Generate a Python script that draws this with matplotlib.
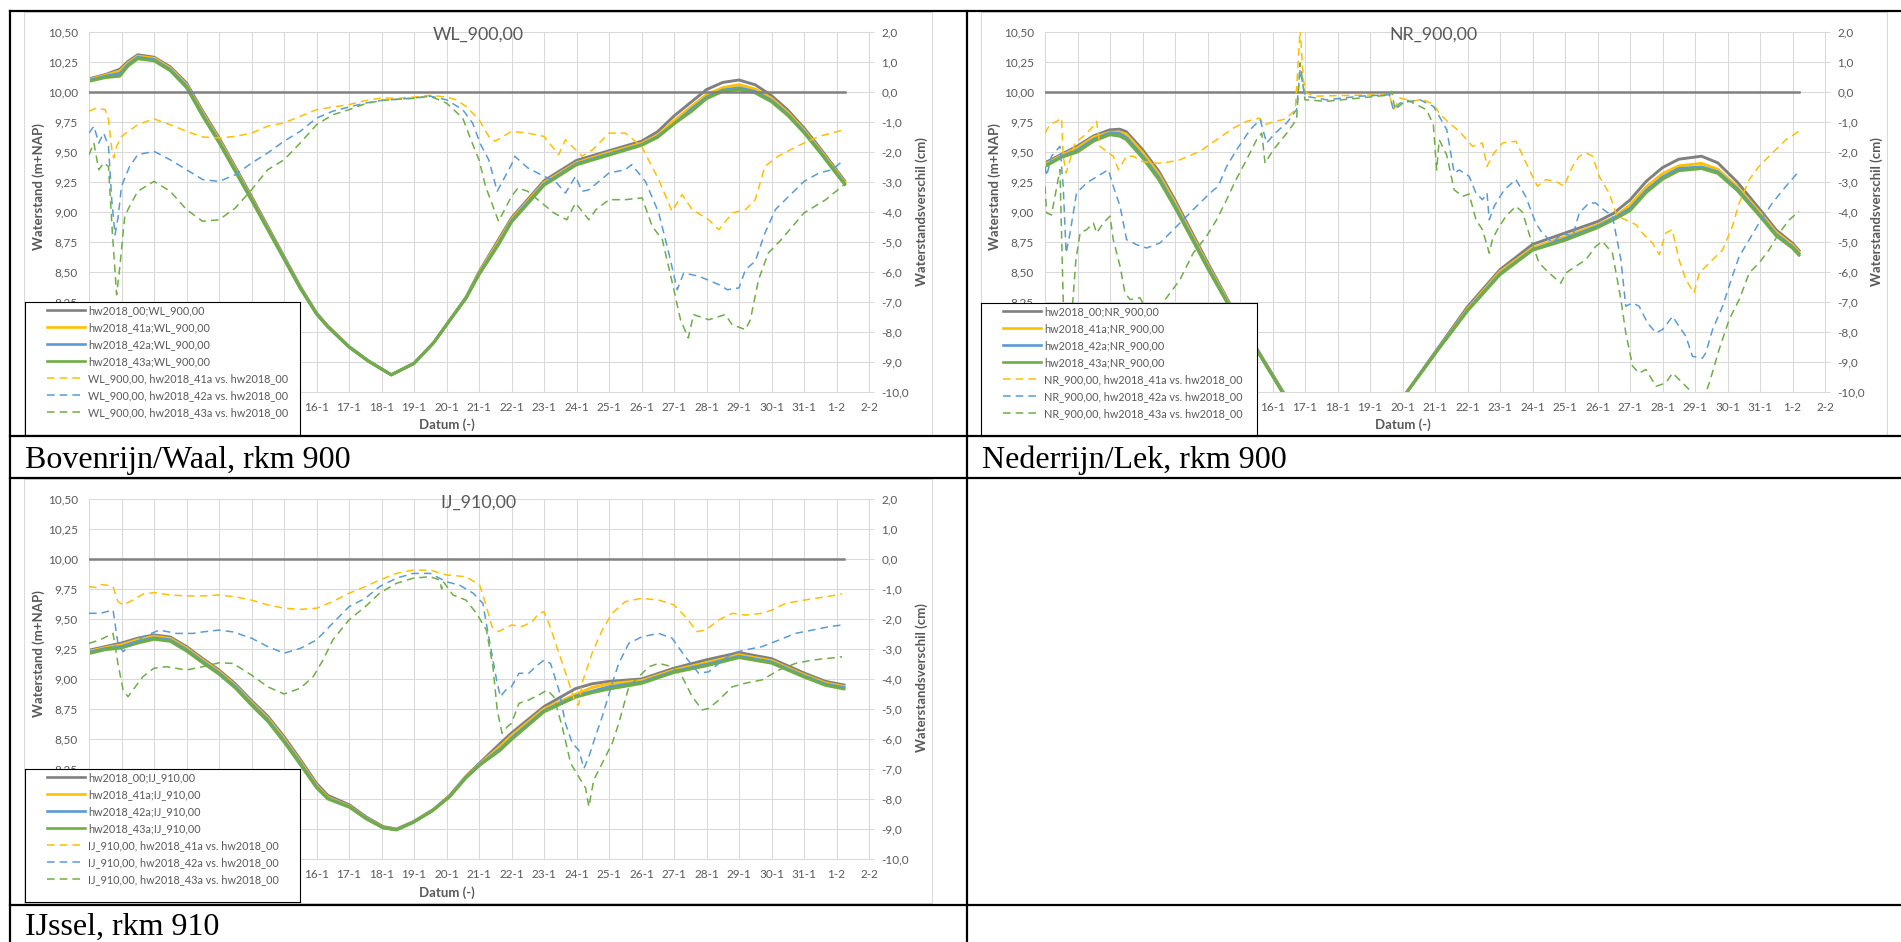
import numpy as np
import matplotlib
matplotlib.use('Agg')
import matplotlib.pyplot as plt
from matplotlib.lines import Line2D
from matplotlib.patches import Rectangle
from matplotlib.transforms import Bbox, TransformedBbox
from matplotlib.ticker import FixedLocator, FuncFormatter, MultipleLocator

plt.rcParams['font.family'] = ['Lato', 'DejaVu Sans']

W, H = 1901, 942

# x axis: days since 9 January
day_labels = ['9-1', '10-1', '11-1', '12-1', '13-1', '14-1', '15-1', '16-1', '17-1',
              '18-1', '19-1', '20-1', '21-1', '22-1', '23-1', '24-1', '25-1', '26-1',
              '27-1', '28-1', '29-1', '30-1', '31-1', '1-2', '2-2']

# ---------------- WL_900,00 (Bovenrijn/Waal) ----------------
wl_t = [0, 0.5, 0.95, 1.2, 1.5, 2, 2.5, 3, 3.5, 4, 5, 6, 6.5, 7, 7.35, 8, 8.6, 9.3, 10,
        10.6, 11.1, 11.6, 12, 12.6, 13, 14, 15, 16, 17, 17.5, 18, 18.5, 19, 19.5, 20,
        20.5, 21, 21.5, 22, 22.5, 23, 23.25]
wl_00 = [10.11, 10.145, 10.19, 10.255, 10.31, 10.29, 10.21, 10.075, 9.84, 9.62, 9.13,
         8.63, 8.38, 8.16, 8.05, 7.88, 7.76, 7.645, 7.74, 7.91, 8.10, 8.29, 8.50, 8.77,
         8.95, 9.26, 9.43, 9.51, 9.59, 9.67, 9.80, 9.91, 10.02, 10.08, 10.10, 10.06,
         9.97, 9.85, 9.70, 9.53, 9.35, 9.26]
wl_41a = [10.104, 10.139, 10.175, 10.242, 10.299, 10.281, 10.199, 10.062, 9.825, 9.605,
          9.116, 8.620, 8.372, 8.154, 8.045, 7.876, 7.757, 7.643, 7.738, 7.909, 8.098,
          8.285, 8.491, 8.754, 8.937, 9.245, 9.411, 9.496, 9.572, 9.641, 9.760, 9.871,
          9.978, 10.036, 10.061, 10.024, 9.947, 9.830, 9.683, 9.515, 9.337, 9.247]
wl_42a = [10.096, 10.131, 10.155, 10.229, 10.289, 10.270, 10.187, 10.049, 9.811, 9.590,
          9.106, 8.614, 8.367, 8.151, 8.043, 7.875, 7.756, 7.643, 7.738, 7.909, 8.097,
          8.283, 8.482, 8.737, 8.926, 9.232, 9.402, 9.483, 9.561, 9.630, 9.734, 9.849,
          9.957, 10.015, 10.035, 10.004, 9.931, 9.815, 9.670, 9.503, 9.325, 9.237]
wl_43a = [10.089, 10.120, 10.132, 10.216, 10.277, 10.260, 10.177, 10.036, 9.797, 9.577,
          9.097, 8.607, 8.363, 8.149, 8.042, 7.874, 7.756, 7.642, 7.738, 7.909, 8.096,
          8.280, 8.477, 8.727, 8.915, 9.222, 9.393, 9.474, 9.555, 9.622, 9.735, 9.830,
          9.944, 10.005, 10.021, 9.992, 9.918, 9.804, 9.660, 9.493, 9.316, 9.229]
wl_d00 = [(0, 0.0), (23.25, 0.0)]
wl_d41a = [(0, -0.64), (0.25, -0.53), (0.5, -0.59), (0.6, -0.92), (0.7, -1.9), (0.76, -2.2),
           (0.85, -1.81), (1.0, -1.48), (1.5, -1.09), (2.0, -0.89), (2.2, -0.98), (2.5, -1.09),
           (3, -1.31), (3.5, -1.50), (4, -1.53), (4.5, -1.48), (5, -1.37), (5.5, -1.14),
           (6, -1.03), (6.5, -0.81), (7, -0.59), (7.5, -0.50), (8, -0.42), (8.5, -0.29),
           (9, -0.20), (9.5, -0.21), (10, -0.17), (10.5, -0.11), (11, -0.17), (11.3, -0.26),
           (11.6, -0.48), (11.9, -0.81), (12.0, -0.92), (12.3, -1.48), (12.5, -1.64),
           (13, -1.31), (13.5, -1.37), (14, -1.48), (14.45, -2.09), (14.66, -1.59),
           (14.97, -1.92), (15.17, -2.14), (15.5, -1.92), (16, -1.37), (16.5, -1.37),
           (17, -1.81), (17.53, -2.92), (17.94, -3.98), (18.25, -3.42), (18.56, -3.92),
           (19.07, -4.26), (19.38, -4.59), (19.8, -4.03), (20.2, -3.92), (20.5, -3.59),
           (20.8, -2.48), (21.2, -2.14), (22, -1.70), (22.46, -1.48), (23.23, -1.26)]
wl_d42a = [(0, -1.37), (0.15, -1.14), (0.3, -1.70), (0.45, -1.37), (0.6, -1.81), (0.7, -3.59),
           (0.8, -4.76), (0.9, -4.14), (1.0, -3.14), (1.25, -2.48), (1.5, -2.09), (2, -1.98),
           (2.5, -2.26), (3, -2.59), (3.5, -2.92), (4, -2.98), (4.5, -2.76), (5, -2.37),
           (5.5, -2.03), (6, -1.64), (6.5, -1.31), (7, -0.87), (7.5, -0.64), (8, -0.50),
           (8.5, -0.37), (9, -0.28), (10, -0.20), (10.5, -0.14), (11, -0.26), (11.5, -0.59),
           (11.8, -1.03), (12.05, -1.75), (12.3, -2.26), (12.56, -3.31), (13, -2.42),
           (13.1, -2.14), (13.5, -2.53), (14, -2.81), (14.35, -2.98), (14.66, -3.37),
           (14.97, -2.81), (15.17, -3.31), (15.38, -3.26), (16, -2.70), (16.5, -2.59),
           (16.7, -2.42), (17.12, -2.98), (17.53, -4.03), (17.84, -5.37), (18.1, -6.59),
           (18.3, -6.03), (18.76, -6.14), (19.38, -6.42), (19.64, -6.59), (20.0, -6.53),
           (20.2, -5.92), (20.5, -5.64), (20.8, -4.70), (21.12, -3.92), (21.53, -3.48),
           (22, -2.98), (22.46, -2.70), (22.87, -2.59), (23.23, -2.26)]
wl_d43a = [(0, -2.09), (0.15, -1.70), (0.3, -2.59), (0.45, -2.37), (0.6, -2.48), (0.72, -4.70),
           (0.85, -6.76), (0.95, -5.81), (1.1, -4.14), (1.25, -3.81), (1.5, -3.31), (2, -2.98),
           (2.5, -3.31), (3, -3.92), (3.5, -4.31), (4, -4.26), (4.5, -3.87), (5, -3.26),
           (5.5, -2.59), (6, -2.26), (6.5, -1.70), (7, -1.09), (7.5, -0.76), (8, -0.59),
           (8.5, -0.39), (9, -0.28), (10, -0.21), (10.5, -0.14), (11, -0.37), (11.5, -0.87),
           (11.75, -1.59), (12.0, -2.26), (12.2, -3.14), (12.6, -4.31), (13, -3.48),
           (13.2, -3.20), (13.5, -3.31), (14, -3.76), (14.3, -4.03), (14.7, -4.26),
           (14.97, -3.70), (15.38, -4.26), (15.6, -3.92), (16, -3.59), (16.5, -3.59),
           (17.02, -3.53), (17.33, -4.48), (17.64, -4.92), (17.95, -6.37), (18.2, -7.59),
           (18.44, -8.2), (18.6, -7.42), (19.07, -7.59), (19.58, -7.42), (19.79, -7.76),
           (20.2, -7.92), (20.35, -7.59), (20.6, -6.26), (20.9, -5.37), (21.3, -4.92),
           (22, -4.03), (22.67, -3.59), (23.23, -3.09)]

# ---------------- NR_900,00 (Nederrijn/Lek) ----------------
nr_t = [0, 0.5, 1, 1.5, 2, 2.3, 2.5, 3, 3.5, 4, 4.5, 5, 5.5, 6, 6.5, 7.33, 8.3, 9.3, 10.2,
        11.13, 12.13, 13, 14, 15, 16, 17, 17.5, 18, 18.5, 19, 19.5, 20.2, 20.7, 21.3, 22,
        22.5, 23, 23.2]
nr_00 = [9.41, 9.48, 9.55, 9.635, 9.685, 9.69, 9.67, 9.52, 9.34, 9.10, 8.84, 8.58, 8.33,
         8.08, 7.87, 7.50, 7.22, 7.12, 7.22, 7.50, 7.88, 8.21, 8.52, 8.73, 8.825, 8.92, 8.99,
         9.10, 9.256, 9.37, 9.44, 9.465, 9.41, 9.25, 9.02, 8.85, 8.74, 8.68]
nr_41a = [9.396, 9.471, 9.535, 9.624, 9.665, 9.665, 9.649, 9.497, 9.316, 9.077, 8.819, 8.561,
          8.317, 8.069, 7.861, 7.491, 7.219, 7.119, 7.219, 7.497, 7.871, 8.192, 8.503, 8.700,
          8.795, 8.894, 8.955, 9.057, 9.209, 9.320, 9.384, 9.405, 9.356, 9.211, 8.995, 8.830,
          8.725, 8.667]
nr_42a = [9.385, 9.462, 9.517, 9.606, 9.659, 9.652, 9.621, 9.469, 9.290, 9.053, 8.800, 8.546,
          8.304, 8.064, 7.860, 7.489, 7.218, 7.118, 7.218, 7.496, 7.870, 8.182, 8.487, 8.686,
          8.778, 8.882, 8.948, 9.030, 9.179, 9.291, 9.362, 9.376, 9.335, 9.194, 8.977, 8.813,
          8.710, 8.654]
nr_43a = [9.379, 9.454, 9.500, 9.591, 9.644, 9.632, 9.603, 9.451, 9.269, 9.035, 8.785, 8.531,
          8.293, 8.054, 7.855, 7.485, 7.217, 7.118, 7.218, 7.496, 7.864, 8.175, 8.477, 8.681,
          8.764, 8.869, 8.936, 9.010, 9.162, 9.273, 9.344, 9.362, 9.322, 9.179, 8.963, 8.800,
          8.698, 8.640]
nr_d00 = [(0, 0.0), (23.2, 0.0)]
nr_d41a = [(0, -1.37), (0.15, -1.09), (0.36, -0.98), (0.51, -0.87), (0.56, -2.14), (0.65, -2.70),
           (0.77, -2.26), (0.92, -1.70), (1.18, -1.48), (1.49, -1.14), (1.59, -0.98), (1.69, -1.81),
           (1.9, -1.98), (2.1, -2.14), (2.26, -2.59), (2.51, -2.14), (2.72, -2.14), (2.97, -2.31),
           (3.33, -2.37), (3.64, -2.37), (4.15, -2.26), (4.77, -1.98), (5.28, -1.59), (5.8, -1.20),
           (6.2, -0.98), (6.6, -0.87), (6.75, -1.1), (7.0, -1.0), (7.4, -0.9), (7.7, -0.6),
           (7.85, 2.1), (7.95, 0.4), (8.05, -0.03), (8.3, -0.14), (9.0, -0.12), (10.0, -0.1),
           (10.6, -0.09), (10.72, -0.59), (10.92, -0.2), (11.3, -0.3), (11.6, -0.25), (11.95, -0.4),
           (12.13, -0.7), (12.4, -1.0), (12.75, -1.31), (13.15, -1.81), (13.46, -1.70),
           (13.6, -2.48), (13.82, -2.03), (14.08, -1.70), (14.49, -1.64), (14.9, -2.59),
           (15.15, -3.14), (15.41, -2.92), (15.72, -2.98), (15.97, -3.14), (16.23, -2.48),
           (16.44, -2.14), (16.64, -2.03), (16.85, -2.14), (17.05, -2.81), (17.36, -3.37),
           (17.6, -4.14), (17.87, -4.26), (18.18, -4.42), (18.38, -4.70), (18.69, -5.03),
           (18.9, -5.42), (19.1, -4.70), (19.3, -4.59), (19.51, -5.59), (19.72, -6.26),
           (19.97, -6.70), (20.13, -6.03), (20.44, -5.70), (20.85, -5.26), (21.15, -4.48),
           (21.36, -3.70), (21.67, -2.92), (21.97, -2.48), (22.38, -2.03), (22.8, -1.59),
           (23.2, -1.31)]
nr_d42a = [(0, -2.48), (0.05, -2.8), (0.2, -2.14), (0.46, -1.81), (0.56, -3.14), (0.65, -5.37),
           (0.77, -4.70), (0.97, -3.37), (1.28, -3.03), (1.69, -2.76), (1.95, -2.59), (2.1, -3.14),
           (2.31, -3.81), (2.51, -4.92), (2.82, -5.09), (3.13, -5.20), (3.54, -5.03), (3.95, -4.59),
           (4.56, -3.92), (5.08, -3.37), (5.33, -3.14), (5.59, -2.48), (5.9, -1.92), (6.31, -1.26),
           (6.62, -0.92), (6.82, -1.70), (7.08, -1.37), (7.44, -1.03), (7.74, -0.59), (7.85, 0.74),
           (8.0, -0.14), (8.67, -0.26), (9.69, -0.14), (10.6, -0.09), (10.72, -0.6), (10.92, -0.37),
           (11.54, -0.26), (11.95, -0.48), (12.13, -0.81), (12.36, -1.25), (12.59, -2.70),
           (12.75, -2.6), (13.05, -2.81), (13.26, -3.37), (13.46, -3.59), (13.6, -3.37),
           (13.67, -4.26), (13.82, -3.81), (14.13, -3.26), (14.49, -2.92), (14.79, -3.48),
           (15.1, -4.37), (15.3, -4.70), (15.62, -5.03), (15.92, -4.70), (16.23, -4.81),
           (16.44, -4.03), (16.74, -3.70), (16.95, -3.70), (17.05, -3.81), (17.46, -4.14),
           (17.72, -5.59), (17.87, -7.14), (18.08, -7.03), (18.28, -7.14), (18.54, -7.70),
           (18.8, -8.03), (19.0, -7.92), (19.31, -7.48), (19.51, -7.81), (19.72, -8.14),
           (19.92, -8.81), (20.23, -8.87), (20.33, -8.70), (20.54, -7.92), (20.85, -7.14),
           (21.15, -6.14), (21.36, -5.48), (21.67, -4.92), (21.97, -4.37), (22.38, -3.70),
           (22.8, -3.14), (23.2, -2.64)]
nr_d43a = [(0, -3.14), (0.05, -4.03), (0.2, -4.1), (0.46, -2.59), (0.56, -6.92), (0.66, -8.6),
           (0.82, -7.5), (0.95, -5.6), (1.08, -4.70), (1.28, -4.59), (1.49, -4.37), (1.59, -4.70),
           (1.79, -4.37), (2.0, -4.14), (2.1, -4.92), (2.31, -5.81), (2.46, -6.70), (2.62, -6.92),
           (2.92, -6.86), (3.13, -7.26), (3.54, -7.14), (3.85, -6.70), (4.15, -6.26), (4.56, -5.37),
           (4.97, -4.81), (5.28, -4.26), (5.59, -3.59), (5.85, -2.98), (6.2, -2.26), (6.51, -1.59),
           (6.67, -1.37), (6.77, -2.37), (7.03, -1.92), (7.44, -1.37), (7.74, -0.92), (7.85, 0.97),
           (8.0, -0.26), (8.67, -0.31), (9.69, -0.20), (10.6, -0.1), (10.67, 0.02), (10.77, -0.59),
           (11.13, -0.26), (11.74, -0.59), (11.95, -1.1), (12.05, -2.6), (12.13, -1.59),
           (12.36, -2.1), (12.59, -3.26), (12.85, -3.48), (13.05, -3.4), (13.26, -4.26),
           (13.46, -4.59), (13.67, -5.37), (13.77, -4.9), (13.92, -4.59), (14.18, -4.14),
           (14.49, -3.81), (14.69, -4.0), (14.95, -4.92), (15.2, -5.70), (15.51, -6.03),
           (15.87, -6.37), (16.03, -6.03), (16.33, -5.81), (16.64, -5.59), (16.95, -5.14),
           (17.15, -4.98), (17.46, -5.37), (17.72, -6.92), (17.87, -8.03), (18.08, -9.14),
           (18.28, -9.37), (18.49, -9.25), (18.8, -9.81), (19.1, -9.70), (19.31, -9.37),
           (19.62, -9.70), (19.92, -10.03), (20.23, -10.3), (20.44, -9.70), (20.74, -8.59),
           (21.05, -7.59), (21.36, -6.92), (21.67, -6.03), (21.97, -5.70), (22.28, -5.26),
           (22.59, -4.70), (22.9, -4.26), (23.2, -3.98)]

# ---------------- IJ_910,00 (IJssel) ----------------
ij_t = [0, 0.5, 1, 1.5, 2, 2.5, 3, 3.5, 4, 4.5, 5, 5.5, 6, 6.5, 7, 7.35, 8.02, 8.53, 9.05,
        9.46, 9.97, 10.58, 11.1, 11.6, 12.02, 12.64, 13, 14, 14.97, 15.48, 16, 17, 18, 19,
        20, 21, 22, 22.66, 23.23]
ij_00 = [9.24, 9.27, 9.30, 9.34, 9.367, 9.35, 9.27, 9.17, 9.075, 8.96, 8.82, 8.69, 8.52,
         8.33, 8.13, 8.03, 7.95, 7.85, 7.77, 7.75, 7.81, 7.91, 8.03, 8.19, 8.30, 8.46, 8.55,
         8.77, 8.92, 8.96, 8.98, 9.0, 9.09, 9.16, 9.22, 9.17, 9.05, 8.98, 8.95]
ij_41a = [9.231, 9.261, 9.285, 9.328, 9.356, 9.338, 9.258, 9.158, 9.063, 8.947, 8.806, 8.675,
          8.504, 8.313, 8.114, 8.015, 7.939, 7.841, 7.763, 7.745, 7.806, 7.906, 8.025, 8.184,
          8.291, 8.436, 8.528, 8.752, 8.872, 8.929, 8.960, 8.987, 9.075, 9.136, 9.202, 9.153,
          9.036, 8.967, 8.938]
ij_42a = [9.222, 9.253, 9.270, 9.313, 9.343, 9.326, 9.245, 9.146, 9.051, 8.936, 8.794, 8.661,
          8.489, 8.300, 8.103, 8.007, 7.934, 7.837, 7.761, 7.744, 7.805, 7.905, 8.022, 8.181,
          8.286, 8.415, 8.507, 8.736, 8.857, 8.898, 8.935, 8.974, 9.064, 9.122, 9.189, 9.142,
          9.026, 8.957, 8.928]
ij_43a = [9.212, 9.244, 9.259, 9.299, 9.331, 9.314, 9.233, 9.134, 9.040, 8.925, 8.781, 8.647,
          8.475, 8.287, 8.093, 8.000, 7.930, 7.834, 7.759, 7.742, 7.804, 7.904, 8.019, 8.176,
          8.281, 8.403, 8.495, 8.726, 8.848, 8.886, 8.916, 8.963, 9.054, 9.110, 9.178, 9.132,
          9.016, 8.947, 8.917]
ij_d00 = [(0, 0.0), (23.23, 0.0)]
ij_d41a = [(0, -0.92), (0.2, -0.95), (0.35, -0.85), (0.53, -0.87), (0.74, -0.92), (0.89, -1.42),
           (1.05, -1.53), (1.35, -1.37), (1.66, -1.17), (2, -1.12), (2.5, -1.20), (3, -1.23),
           (3.5, -1.23), (4, -1.20), (4.5, -1.26), (5, -1.37), (5.5, -1.53), (6, -1.64),
           (6.5, -1.68), (7, -1.64), (7.5, -1.42), (8, -1.14), (8.5, -0.92), (8.94, -0.70),
           (9.46, -0.48), (9.97, -0.37), (10.5, -0.37), (11, -0.53), (11.6, -0.59), (12.02, -0.87),
           (12.2, -1.48), (12.4, -2.26), (12.6, -2.42), (13, -2.20), (13.33, -2.25), (13.64, -2.09),
           (13.84, -1.81), (14, -1.76), (14.15, -2.14), (14.46, -3.14), (14.77, -4.14),
           (14.97, -4.81), (15.07, -4.87), (15.17, -4.14), (15.48, -3.14), (15.79, -2.37),
           (16.1, -1.81), (16.5, -1.42), (17, -1.31), (17.53, -1.37), (18, -1.53), (18.35, -1.92),
           (18.71, -2.42), (18.97, -2.37), (19.38, -2.03), (19.79, -1.81), (20.2, -1.87),
           (20.71, -1.81), (21.02, -1.70), (21.43, -1.48), (22, -1.37), (22.66, -1.26),
           (23.17, -1.17)]
ij_d42a = [(0, -1.81), (0.35, -1.81), (0.74, -1.70), (0.89, -2.81), (1.05, -3.09), (1.35, -2.81),
           (1.66, -2.59), (2.17, -2.37), (2.69, -2.48), (3.2, -2.48), (3.5, -2.43), (4, -2.37),
           (4.43, -2.43), (5, -2.64), (5.5, -2.92), (6, -3.14), (6.5, -2.98), (7, -2.70),
           (7.5, -2.14), (8, -1.59), (8.5, -1.31), (8.94, -0.92), (9.46, -0.64), (9.97, -0.48),
           (10.5, -0.48), (11, -0.76), (11.4, -0.87), (11.82, -1.14), (12.12, -1.48), (12.25, -2.3),
           (12.4, -3.2), (12.56, -4.14), (12.66, -4.59), (12.82, -4.37), (13, -4.26), (13.23, -3.81),
           (13.53, -3.81), (13.74, -3.59), (14, -3.37), (14.2, -3.48), (14.46, -4.37),
           (14.66, -5.48), (14.87, -6.14), (15.07, -6.37), (15.23, -6.98), (15.38, -6.59),
           (15.58, -5.92), (15.79, -5.26), (16.1, -4.14), (16.3, -3.48), (16.61, -2.81),
           (17.02, -2.59), (17.53, -2.48), (17.94, -2.64), (18.35, -3.26), (18.76, -3.81),
           (19.07, -3.76), (19.38, -3.48), (19.79, -3.14), (20.2, -3.03), (20.71, -2.92),
           (21.23, -2.70), (21.74, -2.48), (22.25, -2.37), (22.76, -2.26), (23.17, -2.20)]
ij_d43a = [(0, -2.81), (0.33, -2.70), (0.74, -2.48), (0.89, -3.48), (1.05, -4.37), (1.2, -4.59),
           (1.35, -4.37), (1.66, -3.92), (2, -3.64), (2.38, -3.59), (3, -3.70), (3.5, -3.59),
           (4, -3.46), (4.43, -3.48), (5, -3.87), (5.5, -4.26), (6, -4.50), (6.5, -4.31),
           (6.9, -3.92), (7.2, -3.37), (7.5, -2.70), (8, -2.03), (8.5, -1.59), (8.94, -1.14),
           (9.46, -0.81), (9.97, -0.64), (10.5, -0.59), (10.79, -0.7), (10.85, -1.0), (10.9, -0.75),
           (11.2, -1.20), (11.6, -1.37), (11.92, -1.81), (12.23, -2.37), (12.43, -3.60),
           (12.56, -5.03), (12.71, -5.81), (12.87, -5.59), (13, -5.48), (13.23, -4.81),
           (13.53, -4.70), (13.84, -4.53), (14.1, -4.37), (14.3, -4.59), (14.56, -5.59),
           (14.82, -6.81), (15.07, -7.26), (15.28, -7.64), (15.38, -8.26), (15.53, -7.37),
           (15.79, -6.81), (16.1, -6.14), (16.3, -5.48), (16.61, -4.26), (16.92, -3.92),
           (17.23, -3.59), (17.53, -3.48), (17.94, -3.59), (18.25, -3.92), (18.56, -4.59),
           (18.87, -5.03), (19.07, -4.98), (19.38, -4.70), (19.79, -4.26), (20.2, -4.14),
           (20.71, -4.03), (21.23, -3.70), (21.74, -3.48), (22.25, -3.37), (22.76, -3.31),
           (23.17, -3.26)]

captions = ['Bovenrijn/Waal, rkm 900', 'Nederrijn/Lek, rkm 900', 'IJssel, rkm 910']

GRAY, YELLOW, BLUE, GREEN = '#808080', '#ffc000', '#5b9bd5', '#70ad47'
TXT = '#595959'
GRID = '#d9d9d9'
DASH = (0, (5, 3.3))
N_HIDDEN_DAYS = 7      # date labels that sit under the legend box
Y_HIDDEN_BELOW = 8.2   # level labels that sit under the legend box


def px_box(x0, y0, x1, y1):
    return [x0 / W, 1 - y1 / H, (x1 - x0) / W, (y1 - y0) / H]


def fx(x):
    return x / W


def fy(y):
    return 1 - y / H


def comma(fmt, below=None):
    def f(v, p):
        if below is not None and v < below:
            return ''
        return format(v, fmt).replace('.', ',')
    return FuncFormatter(f)


def draw_chart(fig, station, t, levels, zero, diffs, lay):
    # light frame of the chart area
    x0, y0, x1, y1 = lay['area']
    fig.add_artist(Rectangle((fx(x0), fy(y1)), (x1 - x0) / W, (y1 - y0) / H,
                             transform=fig.transFigure, fill=False, ec=GRID, lw=0.75,
                             zorder=-1))

    ax = fig.add_axes(px_box(*lay['plot']))
    ax2 = ax.twinx()

    for vals, c in zip(levels, [GRAY, YELLOW, BLUE, GREEN]):
        ax.plot(t, vals, color=c, lw=2.1, solid_joinstyle='round')

    zt, zv = np.array(zero).T
    ax2.plot(zt, zv, color=GRAY, lw=1.8)
    for pts, c in zip(diffs, [YELLOW, BLUE, GREEN]):
        dt, dv = np.array(pts).T
        ax2.plot(dt, dv, color=c, lw=1.1, ls=DASH)

    ax.set_xlim(0, 24)
    ax.set_ylim(7.5, 10.5)
    ax2.set_ylim(-10, 2)
    ax.xaxis.set_major_locator(FixedLocator(range(len(day_labels))))
    ax.set_xticklabels(['' if i < N_HIDDEN_DAYS else s for i, s in enumerate(day_labels)])
    ax.yaxis.set_major_locator(MultipleLocator(0.25))
    ax.yaxis.set_major_formatter(comma('.2f', below=Y_HIDDEN_BELOW))
    ax2.yaxis.set_major_locator(MultipleLocator(1))
    ax2.yaxis.set_major_formatter(comma('.1f'))

    ax.grid(True, color=GRID, lw=0.75)
    ax.set_axisbelow(True)
    for s in ax.spines.values():
        s.set_color(GRID)
        s.set_linewidth(0.75)
    for s in ax2.spines.values():
        s.set_visible(False)
    ax.tick_params(axis='both', length=0, labelsize=8.5, labelcolor=TXT)
    ax.tick_params(axis='x', pad=7)
    ax.tick_params(axis='y', pad=8)
    ax2.tick_params(axis='y', length=3.5, width=0.75, color=GRID, pad=5.3,
                    labelsize=8.5, labelcolor=TXT)

    tx, ty = lay['title']
    fig.text(fx(tx), fy(ty), station, ha='center', va='center', fontsize=12.8, color=TXT)
    lx, ly = lay['ylab']
    fig.text(fx(lx), fy(ly), 'Waterstand (m+NAP)', rotation=90, ha='center', va='center',
             fontsize=9.5, fontweight='bold', color=TXT)
    rx, ry = lay['y2lab']
    fig.text(fx(rx), fy(ry), 'Waterstandsverschil (cm)', rotation=90, ha='center',
             va='center', fontsize=9.5, fontweight='bold', color=TXT)
    dx, dy = lay['xlab']
    fig.text(fx(dx), fy(dy), 'Datum (-)', ha='center', va='center', fontsize=9.5,
             fontweight='bold', color=TXT)

    # legend box, drawn over the lower left of the plot
    lx0, ly0, lx1, ly1 = lay['legend']
    lax = fig.add_axes(px_box(lx0, ly0, lx1, ly1))
    lax.set_zorder(5)
    lax.set_facecolor('white')
    lax.set_xticks([])
    lax.set_yticks([])
    for s in lax.spines.values():
        s.set_color('black')
        s.set_linewidth(0.8)
    handles = [Line2D([], [], color=c, lw=1.9) for c in [GRAY, YELLOW, BLUE, GREEN]]
    handles += [Line2D([], [], color=c, lw=1.1, ls=DASH) for c in [YELLOW, BLUE, GREEN]]
    labels = [f'hw2018_{s};{station}' for s in ['00', '41a', '42a', '43a']]
    labels += [f'{station}, hw2018_{s} vs. hw2018_00' for s in ['41a', '42a', '43a']]
    lax.legend(handles, labels, loc='upper left',
               bbox_to_anchor=(22 / (lx1 - lx0), 1 - 3 / (ly1 - ly0)),
               frameon=False, borderpad=0, borderaxespad=0, handlelength=3.5,
               handletextpad=0.28, labelspacing=0.55, fontsize=7.8, labelcolor=TXT)
    return ax, ly0


fig = plt.figure(figsize=(W / 100, H / 100), dpi=100)

layouts = [
    dict(area=(24, 12, 932, 435), plot=(89, 32, 869, 392), legend=(25, 302, 300, 435),
         title=(478, 35), ylab=(39, 187), y2lab=(922, 212), xlab=(447, 425)),
    dict(area=(981, 12, 1887, 435), plot=(1045, 32, 1825, 392), legend=(981, 303, 1257, 436),
         title=(1433, 35), ylab=(995, 187), y2lab=(1877, 212), xlab=(1403, 425)),
    dict(area=(24, 479, 932, 903), plot=(89, 499, 869, 859), legend=(25, 769, 300, 902),
         title=(478, 503), ylab=(39, 654), y2lab=(922, 678), xlab=(447, 893)),
]

charts = [
    draw_chart(fig, 'WL_900,00', wl_t, [wl_00, wl_41a, wl_42a, wl_43a], wl_d00,
               [wl_d41a, wl_d42a, wl_d43a], layouts[0]),
    draw_chart(fig, 'NR_900,00', nr_t, [nr_00, nr_41a, nr_42a, nr_43a], nr_d00,
               [nr_d41a, nr_d42a, nr_d43a], layouts[1]),
    draw_chart(fig, 'IJ_910,00', ij_t, [ij_00, ij_41a, ij_42a, ij_43a], ij_d00,
               [ij_d41a, ij_d42a, ij_d43a], layouts[2]),
]

# table rules
rules = [((10, 11), (1901, 11)), ((10, 11), (10, 942)), ((967, 11), (967, 942)),
         ((10, 436), (1901, 436)), ((10, 478), (1901, 478)), ((10, 905), (1901, 905))]
for (xa, ya), (xb, yb) in rules:
    fig.add_artist(Line2D([fx(xa), fx(xb)], [fy(ya), fy(yb)], transform=fig.transFigure,
                          color='black', lw=1.6, zorder=10))

for txt, (cx, cy) in zip(captions, [(25, 468), (982, 468), (25, 935)]):
    fig.text(fx(cx), fy(cy), txt, family='Liberation Serif', fontsize=23, ha='left',
             va='baseline', color='black')

# the 8,25 label is cut off by the top edge of the legend box
fig.canvas.draw()
for ax, top in charts:
    clip = TransformedBbox(Bbox([[0, fy(top)], [1, 1]]), fig.transFigure)
    for lab in ax.get_yticklabels():
        lab.set_clip_box(clip)
        lab.set_clip_on(True)

fig.savefig('out.png', dpi=100)
